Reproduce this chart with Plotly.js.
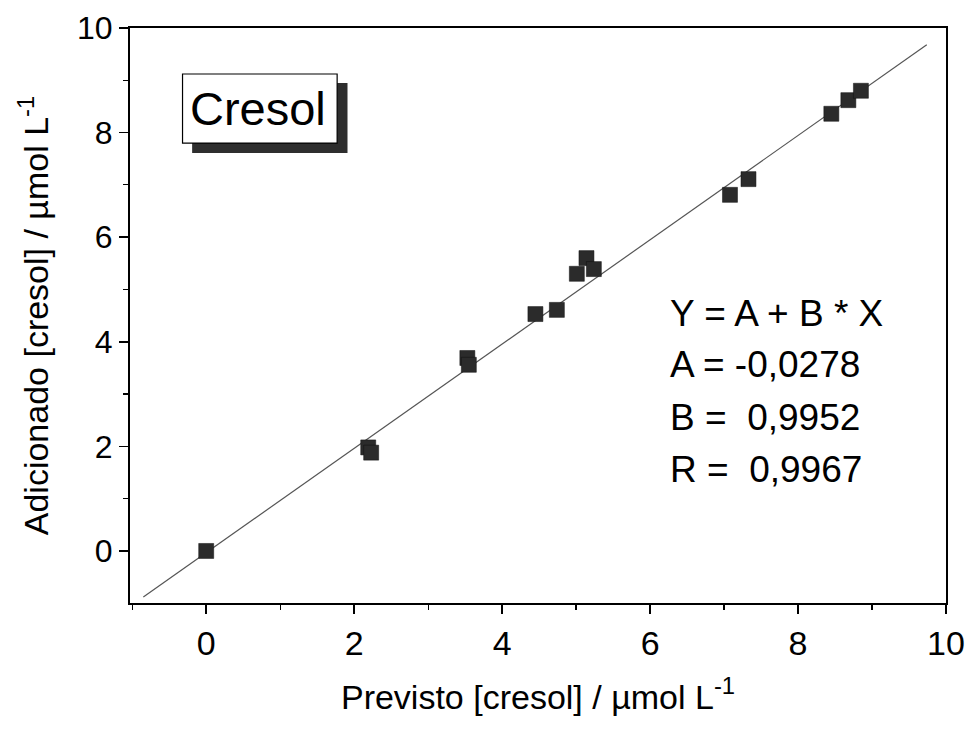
<!DOCTYPE html>
<html>
<head>
<meta charset="utf-8">
<script src="https://cdn.plot.ly/plotly-3.0.1.min.js"></script>
<style>html,body{margin:0;padding:0;background:#fff;}#chart{width:971px;height:734px;}</style>
</head>
<body>
<div id="chart"></div>
<script>
// Data
var previsto    = [0.00, 2.19, 2.23, 3.53, 3.55, 4.45, 4.74, 5.01, 5.14, 5.24, 7.08, 7.33, 8.45, 8.68, 8.85];
var adicionado  = [0.00, 1.98, 1.88, 3.69, 3.56, 4.53, 4.61, 5.30, 5.60, 5.39, 6.81, 7.11, 8.36, 8.62, 8.80];
var fitX = [-0.85, 9.74];
var fitY = [-0.88, 9.68];
var eqLines = ["Y = A + B * X", "A = -0,0278", "B =\u00a0 0,9952", "R =\u00a0 0,9967"];
var eqY = [4.55, 3.56, 2.55, 1.55];
var xTicks = [0, 2, 4, 6, 8, 10];
var yTicks = [0, 2, 4, 6, 8, 10];

var FONT = "Liberation Sans, Arial, sans-serif";

var traces = [
  {
    x: fitX, y: fitY, mode: "lines", type: "scatter",
    line: {color: "#555555", width: 1.2}, hoverinfo: "skip", showlegend: false
  },
  {
    x: previsto, y: adicionado, mode: "markers", type: "scatter",
    marker: {symbol: "square", size: 15, color: "#2b2b2b", line: {color: "#111111", width: 0.5}},
    showlegend: false
  }
];

var annotations = eqLines.map(function (t, i) {
  return {
    x: 6.24, y: eqY[i], xref: "x", yref: "y", text: t, showarrow: false,
    xanchor: "left", yanchor: "middle", font: {family: FONT, size: 37, color: "#000"}
  };
});
annotations.push({
  x: 0.70, y: 8.46, xref: "x", yref: "y", text: "Cresol", showarrow: false,
  xanchor: "center", yanchor: "middle", font: {family: FONT, size: 47, color: "#000"}
});

var shapes = [
  {type: "rect", xref: "x", yref: "y", x0: -0.19, x1: 1.91, y0: 7.61, y1: 8.95,
   fillcolor: "#2e2e2e", line: {width: 0}, layer: "above"},
  {type: "rect", xref: "x", yref: "y", x0: -0.32, x1: 1.77, y0: 7.80, y1: 9.12,
   fillcolor: "#ffffff", line: {color: "#000", width: 1.2}, layer: "above"}
];

var layout = {
  width: 971, height: 734,
  margin: {l: 130, r: 25, t: 28, b: 131},
  paper_bgcolor: "#fff", plot_bgcolor: "#fff",
  font: {family: FONT, color: "#000"},
  showlegend: false,
  xaxis: {
    range: [-1.03, 10], tickvals: xTicks, ticktext: xTicks.map(String),
    ticks: "outside", ticklen: 9, tickwidth: 1.5, tickcolor: "#000",
    minor: {dtick: 1, tick0: 0, ticks: "outside", ticklen: 5, tickwidth: 1.2, tickcolor: "#000"},
    showline: true, linecolor: "#000", linewidth: 2, mirror: true,
    showgrid: false, zeroline: false,
    tickfont: {family: FONT, size: 34, color: "#000"},
    title: {text: "Previsto [cresol] / \u00b5mol L<sup>-1</sup>", font: {family: FONT, size: 34, color: "#000"}, standoff: 24}
  },
  yaxis: {
    range: [-0.995, 10], tickvals: yTicks, ticktext: yTicks.map(String),
    ticks: "outside", ticklen: 9, tickwidth: 1.5, tickcolor: "#000",
    minor: {dtick: 1, tick0: 0, ticks: "outside", ticklen: 5, tickwidth: 1.2, tickcolor: "#000"},
    showline: true, linecolor: "#000", linewidth: 2, mirror: true,
    showgrid: false, zeroline: false,
    tickfont: {family: FONT, size: 32, color: "#000"},
    title: {text: "Adicionado [cresol] / \u00b5mol L<sup>-1</sup>", font: {family: FONT, size: 34, color: "#000"}, standoff: 18}
  },
  shapes: shapes,
  annotations: annotations
};

Plotly.newPlot("chart", traces, layout, {displayModeBar: false, staticPlot: true});
</script>
</body>
</html>
